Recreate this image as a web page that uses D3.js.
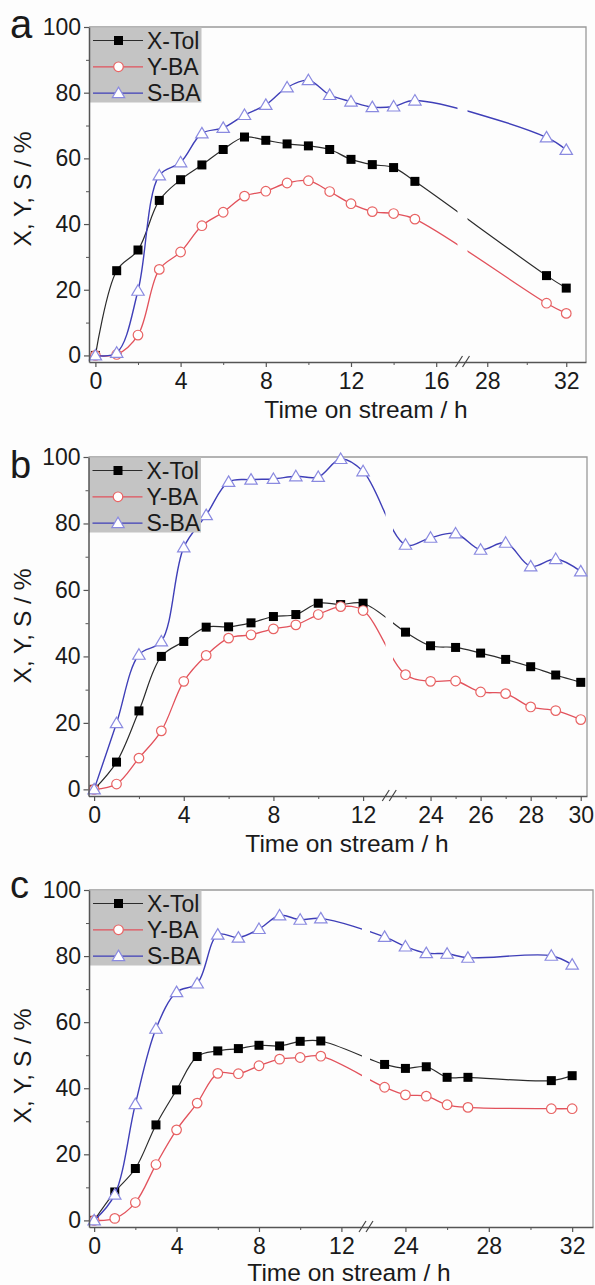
<!DOCTYPE html>
<html>
<head>
<meta charset="utf-8">
<script src="https://cdn.jsdelivr.net/npm/d3@7/dist/d3.min.js"></script>
<style>
  html, body { margin: 0; padding: 0; background: #fdfdfd; }
  svg { display: block; }
  text { font-family: "Liberation Sans", Arial, sans-serif; fill: #1a1a1a; }
</style>
</head>
<body>
<svg id="chart" width="595" height="1285"></svg>
<script>
// Series names (legend)
const seriesNames = ["X-Tol", "Y-BA", "S-BA"];

// Panel a: time on stream (h) and values (%)
const timeA  = [0, 1, 2, 3, 4, 5, 6, 7, 8, 9, 10, 11, 12, 13, 14, 15, 31, 32];
const xTolA  = [0, 25.8, 32.1, 47.2, 53.5, 58.0, 62.7, 66.5, 65.5, 64.4, 63.8, 62.7, 59.7, 58.1, 57.2, 53.0, 24.3, 20.5];
const yBaA   = [0, 0.3, 6.2, 26.2, 31.5, 39.5, 43.6, 48.5, 50.0, 52.5, 53.2, 49.9, 46.2, 43.8, 43.2, 41.5, 15.9, 12.8];
const sBaA   = [0, 0.8, 19.7, 54.8, 58.8, 67.6, 69.3, 73.2, 76.3, 81.6, 83.8, 79.3, 77.3, 75.6, 75.8, 77.6, 66.4, 62.6];

// Panel b
const timeB  = [0, 1, 2, 3, 4, 5, 6, 7, 8, 9, 10, 11, 12, 23, 24, 25, 26, 27, 28, 29, 30];
const xTolB  = [0, 8.2, 23.6, 40.0, 44.5, 48.8, 48.9, 50.1, 52.0, 52.6, 56.0, 55.6, 56.0, 47.3, 43.2, 42.7, 41.0, 39.1, 36.9, 34.4, 32.2];
const yBaB   = [0, 1.6, 9.4, 17.6, 32.5, 40.3, 45.5, 46.5, 48.3, 49.5, 52.6, 55.0, 53.8, 34.5, 32.5, 32.6, 29.3, 28.8, 24.8, 23.7, 21.0];
const sBaB   = [0, 19.9, 40.5, 44.5, 72.8, 82.5, 92.5, 93.2, 93.4, 94.2, 94.0, 99.4, 95.7, 73.6, 75.7, 77.0, 72.1, 74.2, 67.1, 69.3, 65.6];

// Panel c
const timeC  = [0, 1, 2, 3, 4, 5, 6, 7, 8, 9, 10, 11, 23, 24, 25, 26, 27, 31, 32];
const xTolC  = [0, 8.6, 15.7, 28.9, 39.5, 49.6, 51.3, 52.0, 53.0, 52.8, 54.2, 54.3, 47.2, 46.0, 46.5, 43.3, 43.3, 42.3, 43.8];
const yBaC   = [0, 0.6, 5.4, 16.9, 27.4, 35.5, 44.5, 44.4, 46.8, 48.8, 49.3, 49.7, 40.3, 38.0, 37.6, 35.0, 34.2, 33.8, 33.8];
const sBaC   = [0, 7.8, 35.2, 58.0, 69.1, 71.7, 86.5, 85.6, 88.2, 92.3, 91.0, 91.4, 85.8, 82.9, 80.9, 80.7, 79.5, 80.1, 77.4];

// Axis ticks
const yTicks      = [0, 20, 40, 60, 80, 100];
const yMinorTicks = [10, 30, 50, 70, 90];
const xTicksA = [0, 4, 8, 12, 16, 28, 32];
const xMinorA = [2, 6, 10, 14, 30];
const xTicksB = [0, 4, 8, 12, 24, 26, 28, 30];
const xMinorB = [2, 6, 10, 23, 25, 27, 29];
const xTicksC = [0, 4, 8, 12, 24, 28, 32];
const xMinorC = [2, 6, 10, 26, 30];

const xTitle = "Time on stream / h";
const yTitle = "X, Y, S / %";

// Broken time axis: [seg1 start, seg1 end, seg2 start, seg2 end]
const panels = [
  { letter: "a", time: timeA, series: [xTolA, yBaA, sBaA], xTicks: xTicksA, xMinor: xMinorA,
    xDomain: [-0.3, 17, 27, 33], xRange: [89, 457.5, 467.5, 586], top: 27, bottom: 362,
    letterY: 38, letterSize: 40, yTitleY: 189, xTitleX: 366, xTitleDy: 56 },
  { letter: "b", time: timeB, series: [xTolB, yBaB, sBaB], xTicks: xTicksB, xMinor: xMinorB,
    xDomain: [-0.25, 13, 22.5, 30.25], xRange: [88.5, 385.5, 393, 587], top: 457, bottom: 796,
    letterY: 478, letterSize: 38, yTitleY: 626, xTitleX: 347, xTitleDy: 56 },
  { letter: "c", time: timeC, series: [xTolC, yBaC, sBaC], xTicks: xTicksC, xMinor: xMinorC,
    xDomain: [-0.25, 13, 22.3, 33], xRange: [89, 362, 370, 593], top: 890, bottom: 1227,
    letterY: 898, letterSize: 38, yTitleY: 1066, xTitleX: 349, xTitleDy: 54 }
];

const styles = [
  { line: "#2b2b2b", width: 1.2, marker: "square",   stroke: "#000",    fill: "#000" },
  { line: "#e2525c", width: 1.3, marker: "circle",   stroke: "#e86464", fill: "#fff" },
  { line: "#3f3fb8", width: 1.4, marker: "triangle", stroke: "#8a8ae0", fill: "#fff" }
];

const svg = d3.select("#chart");

function drawMarker(g, kind, cx, cy, st) {
  if (kind === "square") {
    g.append("rect").attr("x", cx - 4.5).attr("y", cy - 4.5).attr("width", 9).attr("height", 9)
      .attr("fill", st.fill);
  } else if (kind === "circle") {
    g.append("circle").attr("cx", cx).attr("cy", cy).attr("r", 4.8)
      .attr("fill", st.fill).attr("stroke", st.stroke).attr("stroke-width", 1.2);
  } else {
    g.append("path")
      .attr("d", `M${cx},${cy - 6}L${cx + 6.2},${cy + 4.5}L${cx - 6.2},${cy + 4.5}Z`)
      .attr("fill", st.fill).attr("stroke", st.stroke).attr("stroke-width", 1.2);
  }
}

panels.forEach((p, pi) => {
  const g = svg.append("g");
  const x = d3.scaleLinear().domain(p.xDomain).range(p.xRange);
  const y = d3.scaleLinear().domain([-2, 100]).range([p.bottom, p.top]);
  const left = p.xRange[0], right = p.xRange[3];

  // frame (top and right)
  g.append("path")
    .attr("d", `M${left},${p.top}H${right}V${p.bottom}`)
    .attr("fill", "none").attr("stroke", "#9a9a9a").attr("stroke-width", 1.3);

  // clip paths leaving a gap at the axis break
  const clipId = "clip" + pi;
  const clip = g.append("clipPath").attr("id", clipId);
  clip.append("rect").attr("x", left).attr("y", p.top - 20)
    .attr("width", p.xRange[1] - left).attr("height", p.bottom - p.top + 20);
  clip.append("rect").attr("x", p.xRange[2]).attr("y", p.top - 20)
    .attr("width", right - p.xRange[2]).attr("height", p.bottom - p.top + 20);

  // legend box
  const lg = g.append("g");
  lg.append("rect").attr("x", left + 0.5).attr("y", p.top + 0.5)
    .attr("width", 112).attr("height", 75).attr("fill", "#c4c4c4");

  // series lines and markers
  const lineGen = d3.line()
    .x((d, i) => x(p.time[i]))
    .y(d => y(d))
    .curve(d3.curveCatmullRom.alpha(0.5));

  p.series.forEach((vals, si) => {
    const st = styles[si];
    g.append("path")
      .datum(vals)
      .attr("clip-path", `url(#${clipId})`)
      .attr("d", lineGen)
      .attr("fill", "none")
      .attr("stroke", st.line)
      .attr("stroke-width", st.width);
    const mg = g.append("g");
    vals.forEach((v, i) => drawMarker(mg, st.marker, x(p.time[i]), y(v), st));
  });

  // legend entries
  seriesNames.forEach((name, si) => {
    const st = styles[si];
    const ry = p.top + 13.5 + si * 26.3;
    lg.append("line").attr("x1", left + 4).attr("x2", left + 54).attr("y1", ry).attr("y2", ry)
      .attr("stroke", st.line).attr("stroke-width", st.width);
    drawMarker(lg, st.marker, left + 29.5, ry, st);
    lg.append("text").attr("x", left + 58).attr("y", ry).attr("dy", "0.36em")
      .attr("font-size", 23).text(name);
  });
  lg.raise();

  // y axis
  const yAxis = d3.axisLeft(y).tickValues(yTicks).tickSizeInner(5).tickSizeOuter(0).tickPadding(3)
    .tickFormat(d3.format("d"));
  const ya = g.append("g").attr("transform", `translate(${left},0)`).call(yAxis);
  ya.select(".domain").attr("stroke", "#555").attr("stroke-width", 1.5);
  ya.selectAll(".tick line").attr("stroke", "#555").attr("stroke-width", 1.2);
  ya.selectAll(".tick text").attr("font-size", 23).attr("fill", "#1a1a1a")
    .attr("font-family", "Liberation Sans, Arial, sans-serif");
  const yMinor = d3.axisLeft(y).tickValues(yMinorTicks).tickSize(3).tickFormat("");
  const ym = g.append("g").attr("transform", `translate(${left},0)`).call(yMinor);
  ym.select(".domain").remove();
  ym.selectAll(".tick line").attr("stroke", "#555");

  // x axis
  const xAxis = d3.axisBottom(x).tickValues(p.xTicks).tickSizeInner(5).tickSizeOuter(0).tickPadding(6)
    .tickFormat(d3.format("d"));
  const xa = g.append("g").attr("transform", `translate(0,${p.bottom})`).call(xAxis);
  xa.select(".domain").attr("stroke", "#555").attr("stroke-width", 1.5);
  xa.selectAll(".tick line").attr("stroke", "#555").attr("stroke-width", 1.2);
  xa.selectAll(".tick text").attr("font-size", 23).attr("fill", "#1a1a1a")
    .attr("font-family", "Liberation Sans, Arial, sans-serif");
  const xMinor = d3.axisBottom(x).tickValues(p.xMinor).tickSize(3).tickFormat("");
  const xm = g.append("g").attr("transform", `translate(0,${p.bottom})`).call(xMinor);
  xm.select(".domain").remove();
  xm.selectAll(".tick line").attr("stroke", "#555");

  // break marks "//"
  const bx = (p.xRange[1] + p.xRange[2]) / 2;
  [-3.5, 3.5].forEach(dx => {
    g.append("line")
      .attr("x1", bx + dx - 3.5).attr("y1", p.bottom + 5)
      .attr("x2", bx + dx + 3.5).attr("y2", p.bottom - 6)
      .attr("stroke", "#444").attr("stroke-width", 1.2);
  });

  // axis titles
  g.append("text")
    .attr("x", p.xTitleX).attr("y", p.bottom + p.xTitleDy)
    .attr("text-anchor", "middle").attr("font-size", 24.5).text(xTitle);
  g.append("text")
    .attr("transform", `translate(31,${p.yTitleY}) rotate(-90)`)
    .attr("text-anchor", "middle").attr("font-size", 24.5).text(yTitle);

  // panel letter
  g.append("text").attr("x", 10).attr("y", p.letterY)
    .attr("font-size", p.letterSize).text(p.letter);
});
</script>
</body>
</html>
